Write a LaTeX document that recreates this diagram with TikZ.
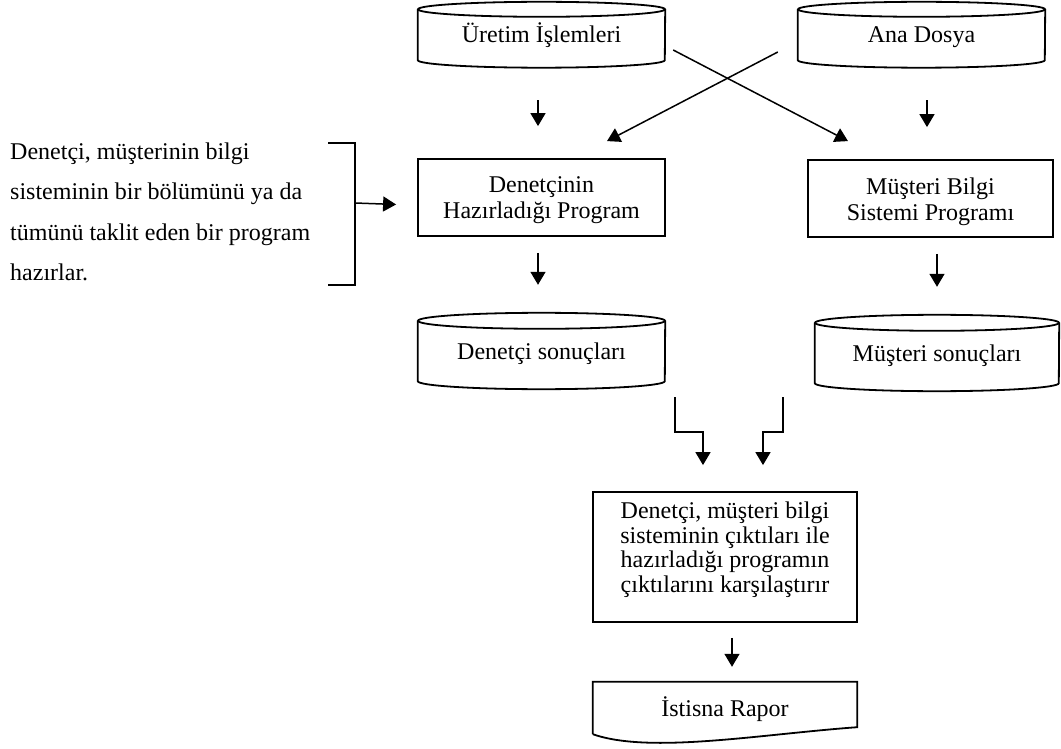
\documentclass[tikz,border=0pt]{standalone}
\usepackage{fontspec}
\setmainfont{Liberation Serif}
\usetikzlibrary{calc,arrows.meta}

\tikzset{
  boxline/.style={line width=1.8pt},
  flowbox/.style={draw, boxline, inner sep=0pt},
  boxtext/.style={inner sep=0pt, align=center},
  canbox/.style={inner sep=0pt, align=center, text height=16.5pt, text depth=0.5pt},
  arr/.style={line width=1.5pt, -{Triangle[length=13pt,width=15pt]}},
  bracketline/.style={line width=1.5pt},
}

% outline of a storage cylinder around a node: #1 node, #2 half width, #3 ellipse radius
\newcommand\candraw[3]{%
  \draw[boxline] ($(#1.north)+(0,#3)$) ellipse [x radius=#2pt, y radius=#3pt];
  \draw[boxline] ($(#1.north west)+(0,#3)$) -- ($(#1.south west)+(0,-#3)$)
    arc [start angle=180, end angle=360, x radius=#2pt, y radius=#3pt]
    -- ($(#1.north east)+(0,#3)$);
}

\begin{document}
\begin{tikzpicture}[x=1pt,y=-1pt,font=\fontsize{24}{26}\selectfont]
\useasboundingbox (0,0) rectangle (1061,749);

% data stores
\node[canbox, minimum width=247pt, minimum height=65.5pt] (ure) at (541.5,34.75) {Üretim İşlemleri};
\node[canbox, minimum width=247pt, minimum height=65.5pt] (ana) at (921.5,34.75) {Ana Dosya};
\node[canbox, minimum width=247pt, minimum height=76pt] (dso) at (541.5,351) {Denetçi sonuçları};
\node[canbox, minimum width=244pt, minimum height=76pt] (mso) at (937,353) {Müşteri sonuçları};
\node[canbox, minimum width=264pt, minimum height=52pt] (ist) at (725,708) {İstisna Rapor};

\candraw{ure}{123.5}{7.5}
\candraw{ana}{123.5}{7.5}
\candraw{dso}{123.5}{8}
\candraw{mso}{122}{8}

% document shape with wavy lower edge
\draw[boxline] (ist.south west) -- (ist.north west) -- (ist.north east) -- ($(ist.south east)+(0,-7)$)
  .. controls ($(ist.south east)+(-97,0)$) and ($(ist.south west)+(57,20)$) .. (ist.south west);

% processing steps
\node[flowbox, minimum width=247pt, minimum height=77pt] (dhp) at (541.5,197.5) {};
\node[boxtext] (dhp-t) at (541.5,200) {Denetçinin\\Hazırladığı Program};
\node[flowbox, minimum width=245pt, minimum height=77pt] (msp) at (930.5,198.5) {};
\node[boxtext] (msp-t) at (930.5,201.8) {Müşteri Bilgi\\Sistemi Programı};
\node[flowbox, minimum width=264pt, minimum height=130pt] (cmp) at (725,557) {};
\node[boxtext, font=\fontsize{24}{24.7}\selectfont] (cmp-t) at (725,549.7)
  {Denetçi, müşteri bilgi\\sisteminin çıktıları ile\\hazırladığı programın\\çıktılarını karşılaştırır};

% side note with bracket
\node[anchor=west, inner sep=0pt, align=left, font=\fontsize{24}{40.3}\selectfont] (note) at (10,211.7)
  {Denetçi, müşterinin bilgi\\sisteminin bir bölümünü ya da\\tümünü taklit eden bir program\\hazırlar.};
\draw[bracketline] (328,143) -- (355,143) -- (355,285) -- (328,285);
\coordinate (brk) at (355,203);
\draw[arr] (brk) -- ([xshift=-21pt,yshift=-7pt]dhp.west);

% flow arrows
\draw[arr, shorten <=32.5pt, shorten >=32pt] ($(ure.south)+(-3.5,0)$) -- ($(dhp.north)+(-3.5,0)$);
\draw[arr, shorten <=32.5pt, shorten >=32pt] ($(msp.north |- ana.south)+(-3.5,0)$) -- ($(msp.north)+(-3.5,0)$);

\coordinate (xa) at ($(ure.east)+(8,15.25)$);
\coordinate (xb) at ($(ana.west)+(-20,17.25)$);
\draw[arr] (xa) -- ($(msp.north)+(-82.5,-18)$);
\draw[arr] (xb) -- ($(dhp.north)+(65.5,-17)$);

\draw[arr, shorten <=16pt, shorten >=28pt] ($(dhp.south)+(-3.5,0)$) -- ($(dso.north)+(-3.5,0)$);
\draw[arr, shorten <=16pt, shorten >=28pt] (mso.north |- msp.south) -- (mso.north);

\coordinate (eL) at ($(dso.south east)+(10,8)$);
\coordinate (eR) at ($(mso.south west)+(-32,6)$);
\draw[arr] (eL) -- ++(0,35) -| ($(cmp.north)+(-22,-26)$);
\draw[arr] (eR) -- ++(0,35) -| ($(cmp.north)+(38,-26)$);

\draw[arr, shorten <=15pt, shorten >=15pt] ($(cmp.south)+(7,0)$) -- ($(ist.north)+(7,0)$);
\end{tikzpicture}
\end{document}
